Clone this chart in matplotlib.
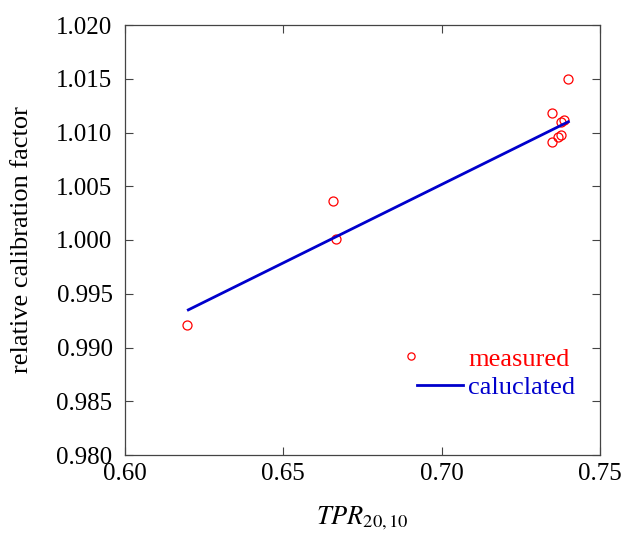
import matplotlib
matplotlib.use('Agg')
import matplotlib.pyplot as plt
from matplotlib.legend_handler import HandlerLine2D
import numpy as np

plt.rcParams['font.family'] = ['Liberation Serif', 'DejaVu Serif']
plt.rcParams['mathtext.fontset'] = 'stix'

# measured relative calibration factors vs TPR20,10
tpr_meas = [0.6196, 0.6657, 0.6666, 0.7398, 0.7347, 0.7387, 0.7378, 0.7376, 0.7366, 0.7347]
rcf_meas = [0.9921, 1.0036, 1.0001, 1.0150, 1.0118, 1.0112, 1.0110, 1.0098, 1.0096, 1.0091]

# calculated curve (straight line)
tpr_calc = [0.620, 0.740]
rcf_calc = [0.99350, 1.01100]

xticks = [0.60, 0.65, 0.70, 0.75]
yticks = [0.980, 0.985, 0.990, 0.995, 1.000, 1.005, 1.010, 1.015, 1.020]


# legend marker sits a bit left of the line handle, like in the original
# (single-point handles put the marker in the middle of xdata)
class LeftMarkerHandler(HandlerLine2D):
    def get_xdata(self, legend, xdescent, ydescent, width, height, fontsize):
        m = -xdescent - 0.13 * width
        return np.array([m - 1.0, m + 1.0]), np.array([m])


fig = plt.figure(figsize=(6.23, 5.37), dpi=100)
ax = fig.add_axes([125 / 623, 1 - 455 / 537, 475 / 623, 430 / 537])

meas, = ax.plot(tpr_meas, rcf_meas, linestyle='none', marker='o', mfc='none', mec='red',
                markersize=6.5, markeredgewidth=0.9, label='measured')
ax.plot(tpr_calc, rcf_calc, color='#0000cc', linewidth=2, label='caluclated')

ax.set_xlim(0.60, 0.75)
ax.set_ylim(0.980, 1.020)
ax.set_xticks(xticks)
ax.set_yticks(yticks)
ax.set_xticklabels(['%.2f' % v for v in xticks])
ax.set_yticklabels(['%.3f' % v for v in yticks])
ax.tick_params(direction='in', top=True, right=True, length=6, width=0.8,
               labelsize=18, color='#444444')
ax.tick_params(axis='y', pad=9)
ax.tick_params(axis='x', pad=6)
for s in ax.spines.values():
    s.set_color('#444444')
    s.set_linewidth(0.9)

ax.set_ylabel('relative calibration factor', fontsize=19)
ax.yaxis.set_label_coords(-0.194, 0.5)
ax.set_xlabel(r'$\mathit{TPR}_{20,10}$', fontsize=19, labelpad=14)

leg = ax.legend(loc='lower right', bbox_to_anchor=(0.97, 0.105), frameon=False,
                fontsize=19, handlelength=1.75, handletextpad=0.2, borderaxespad=0,
                labelspacing=0.2, markerscale=0.8,
                handler_map={meas: LeftMarkerHandler()})
for txt, c in zip(leg.get_texts(), ['red', '#0000cc']):
    txt.set_color(c)

fig.savefig('out.png', dpi=100)
